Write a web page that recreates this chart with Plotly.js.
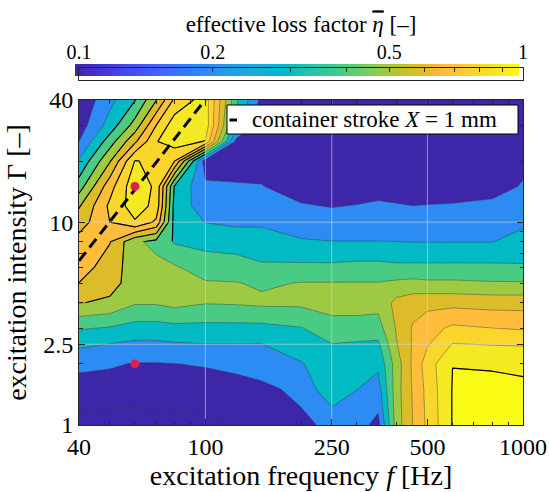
<!DOCTYPE html>
<html><head><meta charset="utf-8">
<script src="https://cdn.plot.ly/plotly-3.0.1.min.js"></script>
<style>html,body{margin:0;padding:0;background:#fff}#chart{width:549px;height:492px}</style>
</head><body><div id="chart"></div>
<script>
// ---- data ----
const freq  = [40,50,60,70,80,100,125,150,200,250,300,350,400,450,500,600,800,1000];   // Hz
const gamma = [1,1.5,2,2.5,3,4,5,6,8,10,12,15,20,25,30,40];                         // excitation intensity
// effective loss factor, one array per frequency, ordered like gamma
const eta040  = [0.08,0.15,0.227,0.32,0.41,0.605,0.698,0.75,0.74,0.65,0.59,0.45,0.31,0.198,0.15,0.12];
const eta050  = [0.05,0.16,0.21,0.298,0.39,0.58,0.64,0.65,0.705,0.80,0.82,0.76,0.59,0.45,0.34,0.27];
const eta060  = [0.04,0.16,0.195,0.28,0.36,0.51,0.55,0.55,0.52,0.89,0.95,0.97,0.905,0.68,0.54,0.395];
const eta070  = [0.05,0.17,0.195,0.28,0.36,0.51,0.55,0.53,0.47,0.78,0.87,0.88,0.88,0.895,0.80,0.595];
const eta080  = [0.06,0.17,0.199,0.29,0.37,0.53,0.57,0.51,0.39,0.36,0.36,0.39,0.80,0.95,0.96,0.82];
const eta100  = [0.07,0.17,0.205,0.298,0.37,0.505,0.51,0.45,0.37,0.298,0.25,0.22,0.14,0.895,0.96,0.95];
const eta125  = [0.11,0.17,0.22,0.298,0.37,0.51,0.505,0.44,0.36,0.28,0.25,0.21,0.15,0.17,0.35,0.42];
const eta150  = [0.12,0.18,0.24,0.297,0.37,0.52,0.485,0.41,0.36,0.28,0.24,0.205,0.15,0.14,0.14,0.17];
const eta200  = [0.18,0.22,0.29,0.37,0.395,0.52,0.505,0.42,0.31,0.25,0.21,0.15,0.13,0.13,0.13,0.13];
const eta250  = [0.22,0.38,0.38,0.398,0.45,0.55,0.505,0.42,0.302,0.25,0.195,0.15,0.13,0.13,0.13,0.13];
const eta300  = [0.24,0.301,0.35,0.39,0.45,0.55,0.505,0.43,0.302,0.25,0.205,0.14,0.13,0.13,0.13,0.13];
const eta350  = [0.17,0.26,0.32,0.38,0.46,0.53,0.505,0.43,0.302,0.25,0.22,0.15,0.13,0.13,0.13,0.13];
const eta400  = [0.55,0.56,0.55,0.595,0.61,0.63,0.52,0.42,0.301,0.25,0.21,0.14,0.13,0.13,0.13,0.13];
const eta450  = [0.702,0.71,0.72,0.71,0.71,0.66,0.53,0.42,0.298,0.25,0.201,0.14,0.13,0.13,0.13,0.13];
const eta500  = [0.82,0.83,0.85,0.79,0.76,0.67,0.52,0.42,0.298,0.25,0.205,0.14,0.13,0.13,0.13,0.13];
const eta600  = [1.005,1.005,0.999,0.905,0.82,0.67,0.52,0.42,0.298,0.25,0.21,0.14,0.13,0.13,0.13,0.13];
const eta800  = [1.005,1.005,0.998,0.895,0.801,0.66,0.51,0.42,0.298,0.26,0.23,0.15,0.14,0.13,0.13,0.13];
const eta1000 = [1.005,1.005,0.995,0.89,0.79,0.66,0.51,0.41,0.34,0.28,0.25,0.21,0.17,0.14,0.13,0.13];

const strokeFreq  = [40, 100];     // container stroke X = 1 mm
const strokeGamma = [6.44, 40.2];
const markFreq  = [60, 60];        // highlighted operating points
const markGamma = [15, 2];

const xTickVals = [40,100,250,500,1000];
const xMinor    = [50,60,70,80,90,200,300,400,600,700,800,900];
const yTickVals = [1,2.5,10,40];
const yMinor    = [2,3,4,5,6,7,8,9,20,30];
const cbTickVals = [0.1,0.2,0.3,0.4,0.5,0.6,0.7,0.8,0.9,1];
const cbTickText = ['0.1','0.2','','','0.5','','','','','1'];

// ---- styling ----
const FONT = 'Liberation Serif';
const parula = [
[0.2422,0.1504,0.6603],[0.2504,0.1650,0.7076],[0.2578,0.1818,0.7511],[0.2647,0.1978,0.7952],
[0.2706,0.2147,0.8364],[0.2751,0.2342,0.8710],[0.2783,0.2559,0.8991],[0.2803,0.2782,0.9221],
[0.2813,0.3006,0.9414],[0.2810,0.3228,0.9579],[0.2795,0.3447,0.9717],[0.2760,0.3667,0.9829],
[0.2699,0.3892,0.9906],[0.2602,0.4123,0.9952],[0.2440,0.4358,0.9988],[0.2206,0.4603,0.9973],
[0.1963,0.4847,0.9892],[0.1834,0.5074,0.9798],[0.1786,0.5289,0.9682],[0.1764,0.5499,0.9520],
[0.1687,0.5703,0.9359],[0.1540,0.5902,0.9218],[0.1460,0.6091,0.9079],[0.1380,0.6276,0.8973],
[0.1248,0.6459,0.8883],[0.1113,0.6635,0.8763],[0.0952,0.6798,0.8598],[0.0689,0.6948,0.8394],
[0.0297,0.7082,0.8163],[0.0036,0.7203,0.7917],[0.0067,0.7312,0.7660],[0.0433,0.7411,0.7394],
[0.0964,0.7500,0.7120],[0.1408,0.7584,0.6842],[0.1717,0.7670,0.6554],[0.1938,0.7758,0.6251],
[0.2161,0.7843,0.5923],[0.2470,0.7918,0.5567],[0.2906,0.7973,0.5188],[0.3406,0.8008,0.4789],
[0.3909,0.8029,0.4354],[0.4456,0.8024,0.3909],[0.5044,0.7993,0.3480],[0.5616,0.7942,0.3045],
[0.6174,0.7876,0.2612],[0.6720,0.7793,0.2227],[0.7242,0.7698,0.1910],[0.7738,0.7598,0.1646],
[0.8203,0.7498,0.1535],[0.8634,0.7406,0.1596],[0.9035,0.7330,0.1774],[0.9393,0.7288,0.2100],
[0.9728,0.7298,0.2394],[0.9956,0.7434,0.2371],[0.9970,0.7659,0.2199],[0.9952,0.7893,0.2028],
[0.9892,0.8136,0.1885],[0.9786,0.8386,0.1766],[0.9676,0.8639,0.1643],[0.9610,0.8890,0.1537],
[0.9597,0.9135,0.1423],[0.9628,0.9373,0.1265],[0.9691,0.9606,0.1064],[0.9769,0.9839,0.0805]];
const rgb = c => 'rgb(' + c.map(v => Math.round(v*255)).join(',') + ')';
const r3 = v => Math.round(v*1000)/1000;
const parulaScale = parula.map((c,i) => [r3(i/(parula.length-1)), rgb(c)]);
parulaScale[parulaScale.length-1][0] = 1;
// band colours (colour of the lower level on the log colour scale)
const bandIdx = [0,19,30,38,44,49,53,57,60,63];
const bandCols = bandIdx.map(i => rgb(parula[i]));
const stepScale = [];
bandCols.forEach((c,k) => {
  const lo = k === 0 ? 0 : r3(0.05 + 0.1*k);
  const hi = k === bandCols.length-1 ? 1 : r3(0.15 + 0.1*k);
  stepScale.push([lo, c], [hi, c]);
});

const columns = [eta040,eta050,eta060,eta070,eta080,eta100,eta125,eta150,eta200,eta250,
                 eta300,eta350,eta400,eta450,eta500,eta600,eta800,eta1000];
const z = gamma.map((g,i) => columns.map(col => col[i]));
const sub = (c0,c1,q0,q1) => ({x: freq.slice(c0,c1), y: gamma.slice(q0,q1),
                               z: z.slice(q0,q1).map(r => r.slice(c0,c1))});

const traces = [];
traces.push({
  type:'contour', x:freq, y:gamma, z:z, xaxis:'x', yaxis:'y',
  zmin:0.05, zmax:1.05, zauto:false, autocontour:false, colorscale:stepScale, showscale:false,
  contours:{start:0.1, end:1.0, size:0.1, coloring:'fill', showlines:true},
  line:{color:'rgba(55,55,55,0.55)', width:0.8, smoothing:0},
  hoverinfo:'skip'
});
// black contour lines in the resonance zone
const blackLines = (s, a, b) => ({type:'contour', x:s.x, y:s.y, z:s.z, showscale:false, hoverinfo:'skip',
  autocontour:false, contours:{start:a, end:b, size:0.1, coloring:'none'},
  line:{color:'#000', width:1.1, smoothing:0}});
traces.push(blackLines(sub(0,3,5,16), 0.4, 0.9));
traces.push(blackLines(sub(2,6,8,16), 0.4, 0.9));
traces.push(blackLines(sub(14,18,0,4), 1.0, 1.0));
// grid lines (drawn above the filled contours)
const gridCol = 'rgba(215,215,215,0.6)';
xTickVals.slice(1,-1).forEach(v => traces.push({type:'scatter', mode:'lines', x:[v,v],
  y:[yTickVals[0], yTickVals[yTickVals.length-1]], line:{color:gridCol, width:1}, hoverinfo:'skip'}));
yTickVals.slice(1,-1).forEach(v => traces.push({type:'scatter', mode:'lines',
  x:[xTickVals[0], xTickVals[xTickVals.length-1]], y:[v,v], line:{color:gridCol, width:1}, hoverinfo:'skip'}));
// container stroke line
traces.push({type:'scatter', mode:'lines', x:strokeFreq, y:strokeGamma,
  line:{color:'#000', width:3, dash:'11px,6px'}, hoverinfo:'skip'});
// marked points
traces.push({type:'scatter', mode:'markers', x:markFreq, y:markGamma,
  marker:{color:'#e0204c', size:9}, hoverinfo:'skip'});
// colour bar gradient
const nCb = 160, cbX = [], cbZ = [];
for (let i = 0; i < nCb; i++) { const v = -1 + (i+0.5)/nCb; cbX.push(v); cbZ.push(v); }
traces.push({type:'heatmap', x:cbX, y:[0.5], z:[cbZ], zmin:-1, zmax:0, colorscale:parulaScale,
  showscale:false, xaxis:'x2', yaxis:'y2', hoverinfo:'skip'});
traces.push({type:'scatter', mode:'markers', x:[0.5], y:[0.5], xaxis:'x3', yaxis:'y3',
  marker:{opacity:0}, hoverinfo:'skip'});

// ---- layout geometry (pixels -> paper) ----
const L = 70, R = 26, T = 40, B = 67, W = 549, H = 492;
const pw = W - L - R, ph = H - T - B;
const px = v => (v - L)/pw;
const py = v => (H - B - v)/ph;
const ink = '#262626';
const tickFont = {family:FONT, size:24, color:'#000'};

const layout = {
  width:W, height:H, margin:{l:L, r:R, t:T, b:B},
  paper_bgcolor:'#fff', plot_bgcolor:'rgba(0,0,0,0)', showlegend:false,
  font:{family:FONT, color:'#000'},
  xaxis:{type:'log', range:[Math.log10(40), Math.log10(1000)], domain:[px(79),1], anchor:'y',
    tickvals:xTickVals, ticktext:xTickVals.map(String), ticks:'inside', ticklen:6, tickcolor:ink,
    minor:{tickvals:xMinor, ticks:'inside', ticklen:3.5, tickcolor:ink, showgrid:false},
    showline:true, linecolor:ink, linewidth:1, mirror:'ticks', showgrid:false, zeroline:false,
    layer:'above traces', tickfont:tickFont,
    title:{text:'excitation frequency <i>f</i> [Hz]', font:{family:FONT, size:28, color:'#000'}, standoff:6}},
  yaxis:{type:'log', range:[0, Math.log10(40)], domain:[0, py(100)], anchor:'x',
    tickvals:yTickVals, ticktext:yTickVals.map(String), ticks:'inside', ticklen:6, tickcolor:ink,
    minor:{tickvals:yMinor, ticks:'inside', ticklen:3.5, tickcolor:ink, showgrid:false},
    showline:true, linecolor:ink, linewidth:1, mirror:'ticks', showgrid:false, zeroline:false,
    layer:'above traces', tickfont:tickFont,
    title:{text:'excitation intensity Γ [–]', font:{family:FONT, size:28, color:'#000'}, standoff:8}},
  xaxis2:{domain:[px(75), px(519)], range:[-1,0], anchor:'y2', visible:false, fixedrange:true},
  yaxis2:{domain:[py(76), py(64)], range:[0,1], anchor:'x2', visible:false, fixedrange:true},
  xaxis3:{type:'log', domain:[px(79),1], range:[-1,0], anchor:'y3', side:'top',
    tickvals:cbTickVals, ticktext:cbTickText, ticks:'inside', ticklen:4, tickcolor:ink,
    showline:true, linecolor:ink, linewidth:1.2, mirror:true, showgrid:false, zeroline:false,
    tickfont:{family:FONT, size:20, color:'#000'},
    title:{text:'effective loss factor <span style="text-decoration:overline"><i>η</i></span> [–]',
           font:{family:FONT, size:23, color:'#000'}, standoff:1}},
  yaxis3:{domain:[py(80), py(68)], range:[0,1], anchor:'x3', showline:true, linecolor:ink, linewidth:1.2,
    mirror:true, ticks:'', showticklabels:false, showgrid:false, zeroline:false},
  shapes:[
    {type:'rect', xref:'paper', yref:'paper', x0:px(227), x1:px(518), y0:py(134), y1:py(105),
     fillcolor:'#fff', line:{color:'#000', width:1}},
    {type:'line', xref:'paper', yref:'paper', x0:px(229.5), x1:px(237), y0:py(120), y1:py(120),
     line:{color:'#000', width:3}}
  ],
  annotations:[
    {xref:'paper', yref:'paper', x:px(250), y:py(119.5), xanchor:'left', yanchor:'middle', showarrow:false,
     text:'container stroke <i>X</i> = 1 mm', font:{family:FONT, size:23, color:'#000'}}
  ]
};

Plotly.newPlot('chart', traces, layout, {displayModeBar:false, staticPlot:true});
</script>
</body></html>
